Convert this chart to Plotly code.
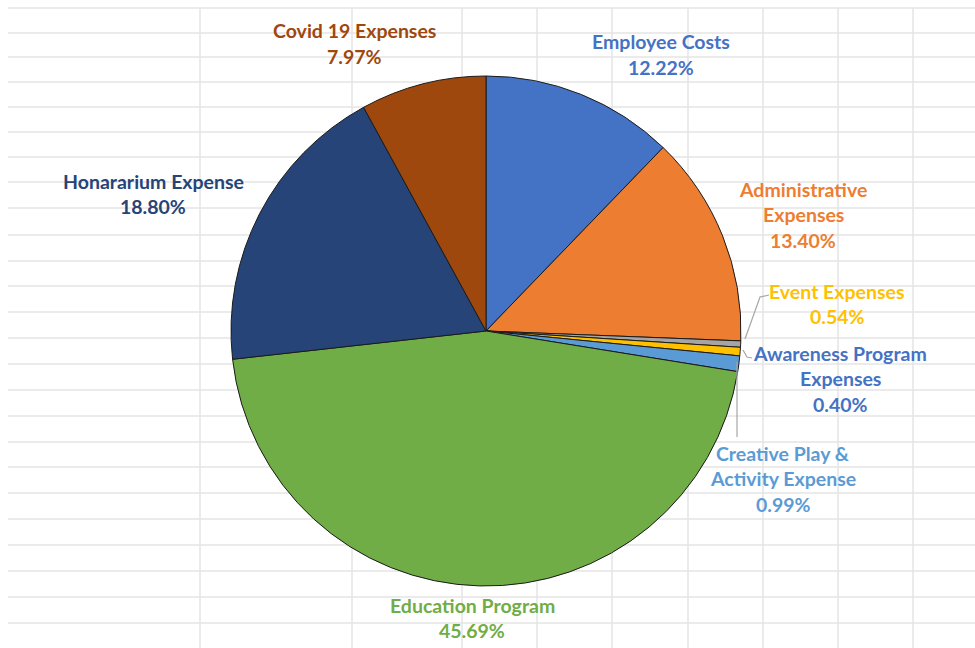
import plotly.graph_objects as go

# ---- data ----
categories = ["Employee Costs", "Administrative Expenses", "Awareness Program Expenses",
              "Event Expenses", "Creative Play & Activity Expense", "Education Program",
              "Honorarium Expense", "Covid 19 Expenses"]
values = [12.22, 13.40, 0.40, 0.54, 0.99, 45.69, 18.80, 7.97]
slice_colors = ["#4472C4", "#ED7D31", "#A5A5A5", "#FFC000", "#5B9BD5", "#70AD47", "#264478", "#9E480E"]
label_lines = {
    "Employee Costs": ["Employee Costs"],
    "Administrative Expenses": ["Administrative", "Expenses"],
    "Awareness Program Expenses": ["Awareness Program", "Expenses"],
    "Event Expenses": ["Event Expenses"],
    "Creative Play & Activity Expense": ["Creative Play &", "Activity Expense"],
    "Education Program": ["Education Program"],
    "Honorarium Expense": ["Honararium Expense"],
    "Covid 19 Expenses": ["Covid 19 Expenses"],
}
label_colors = {
    "Employee Costs": "#4472C4",
    "Administrative Expenses": "#ED7D31",
    "Awareness Program Expenses": "#4472C4",
    "Event Expenses": "#FFC000",
    "Creative Play & Activity Expense": "#5B9BD5",
    "Education Program": "#70AD47",
    "Honorarium Expense": "#264478",
    "Covid 19 Expenses": "#9E480E",
}

# ---- layout (pixel positions of label centres: x, first line y) ----
W, H = 975, 648
label_pos = {
    "Employee Costs": (661, 42),
    "Administrative Expenses": (803, 189),
    "Awareness Program Expenses": (840, 353),
    "Event Expenses": (837, 291),
    "Creative Play & Activity Expense": (783, 453),
    "Education Program": (472, 605),
    "Honorarium Expense": (153, 181),
    "Covid 19 Expenses": (354, 31),
}
LINE = 25.8
grid_h = [8, 33, 57, 82, 107, 132, 157, 182, 208, 235, 261, 286, 312, 338, 364, 390,
          416, 442, 467, 493, 519, 545, 571, 597, 623]
grid_v = [200, 352, 462, 537, 612, 688, 763, 838, 913]

def px(x):
    return x / W

def py(y):
    return 1 - y / H

fig = go.Figure(go.Pie(
    labels=categories, values=values, sort=False, direction="clockwise", rotation=0,
    marker=dict(colors=slice_colors, line=dict(color="#1b1b1b", width=1)),
    textinfo="none", hoverinfo="skip", showlegend=False,
    domain=dict(x=[px(231), px(741)], y=[py(586), py(76)]),
))

shapes = []
grid_color = "#E4E4E4"
for y in grid_h:
    shapes.append(dict(type="line", xref="paper", yref="paper", x0=px(8), x1=1,
                       y0=py(y), y1=py(y), line=dict(color=grid_color, width=1.5), layer="below"))
for x in grid_v:
    shapes.append(dict(type="line", xref="paper", yref="paper", x0=px(x), x1=px(x),
                       y0=py(8), y1=0, line=dict(color=grid_color, width=1.5), layer="below"))

# leader lines
def path(points):
    d = "M " + " L ".join(f"{px(x)},{py(y)}" for x, y in points)
    return dict(type="path", xref="paper", yref="paper", path=d,
                line=dict(color="#A6A6A6", width=1.2), layer="above")

shapes.append(path([(769, 295), (760, 297), (745, 339)]))
shapes.append(path([(752, 358), (747, 357), (743, 350)]))
shapes.append(path([(737, 437), (737, 362)]))

annotations = []
for cat, val in zip(categories, values):
    lines = label_lines[cat] + [f"{val:.2f}%"]
    cx, cy = label_pos[cat]
    for i, t in enumerate(lines):
        annotations.append(dict(
            x=px(cx), y=py(cy + i * LINE), xref="paper", yref="paper",
            text=t, showarrow=False, xanchor="center", yanchor="middle",
            font=dict(family="Lato", size=19.5, color=label_colors[cat], weight="bold"),
        ))

fig.update_layout(
    width=W, height=H, margin=dict(l=0, r=0, t=0, b=0),
    paper_bgcolor="white", plot_bgcolor="white",
    shapes=shapes, annotations=annotations,
)
fig.write_html("out.html")
